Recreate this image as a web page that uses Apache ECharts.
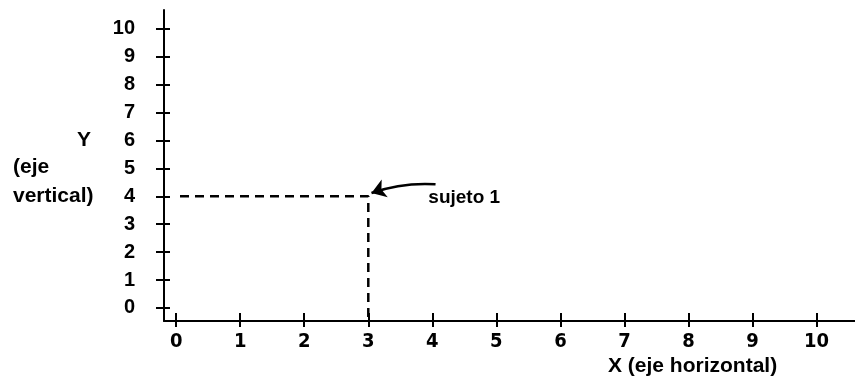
<!DOCTYPE html>
<html>
<head>
<meta charset="utf-8">
<script src="https://cdn.jsdelivr.net/npm/echarts@6/dist/echarts.min.js"></script>
<style>html,body{margin:0;padding:0;background:#fff}#c{width:855px;height:385px}</style>
</head>
<body>
<div id="c"></div>
<script>
// ---- data ----
var xTicks = [0,1,2,3,4,5,6,7,8,9,10];
var yTicks = [0,1,2,3,4,5,6,7,8,9,10];
var subjectPoint = [3, 4];
var subjectLabel = 'sujeto 1';
var arrowTail = [4.05, 4.43];
var arrowHead = [3.05, 4.12];
var labelAnchor = [3.93, 3.95];
var xName = 'X (eje horizontal)';
var yName = 'Y';
var yNameSub = ['(eje', 'vertical)'];

var X_MIN = -0.19, X_MAX = 10.6, Y_MIN = -0.47, Y_MAX = 10.68;
var chart = echarts.init(document.getElementById('c'), null, {renderer: 'canvas'});
var font = 'Liberation Sans, Arial, sans-serif';
var narrow = "'Liberation Sans Narrow', 'DejaVu Sans Condensed', 'Liberation Sans', sans-serif";

chart.setOption({
  animation: false,
  backgroundColor: '#fff',
  grid: {left: 164, right: 0, top: 10, bottom: 64, containLabel: false, outerBoundsMode: 'none'},
  xAxis: [{
    type: 'value', min: X_MIN, max: X_MAX, position: 'bottom',
    splitLine: {show: false},
    axisLine: {show: true, onZero: false, lineStyle: {color: '#000', width: 2}},
    axisTick: {show: true, inside: false, length: 6, customValues: xTicks, lineStyle: {color: '#000', width: 2}},
    axisLabel: {show: true, customValues: xTicks, margin: 11, color: '#000', fontSize: 20, fontWeight: 'bold', fontFamily: narrow}
  }, {
    type: 'value', min: X_MIN, max: X_MAX, position: 'bottom',
    splitLine: {show: false},
    axisLine: {show: false, onZero: false},
    axisTick: {show: true, inside: true, length: 8, customValues: xTicks, lineStyle: {color: '#000', width: 2}},
    axisLabel: {show: false}
  }],
  yAxis: [{
    type: 'value', min: Y_MIN, max: Y_MAX, position: 'left',
    splitLine: {show: false},
    axisLine: {show: true, onZero: false, lineStyle: {color: '#000', width: 2}},
    axisTick: {show: true, inside: false, length: 8, customValues: yTicks, lineStyle: {color: '#000', width: 2}},
    axisLabel: {show: true, customValues: yTicks, margin: 29, color: '#000', fontSize: 20, fontWeight: 'bold', fontFamily: font}
  }, {
    type: 'value', min: Y_MIN, max: Y_MAX, position: 'left',
    splitLine: {show: false},
    axisLine: {show: false, onZero: false},
    axisTick: {show: true, inside: true, length: 6, customValues: yTicks, lineStyle: {color: '#000', width: 2}},
    axisLabel: {show: false}
  }],
  series: [{
    type: 'line',
    xAxisIndex: 0, yAxisIndex: 0,
    data: [[0.06, subjectPoint[1]], subjectPoint, [subjectPoint[0], Y_MIN]],
    symbol: 'none',
    lineStyle: {color: '#000', width: 2.5, type: [9, 6]},
    silent: true
  }, {
    type: 'lines',
    coordinateSystem: 'cartesian2d',
    xAxisIndex: 0, yAxisIndex: 0,
    symbol: ['none', 'arrow'],
    symbolSize: [0, 14],
    lineStyle: {color: '#000', width: 2.5, curveness: -0.1, opacity: 1},
    data: [{coords: [arrowTail, arrowHead]}],
    silent: true
  }, {
    type: 'scatter',
    xAxisIndex: 0, yAxisIndex: 0,
    symbolSize: 1,
    itemStyle: {color: '#fff', opacity: 0},
    data: [labelAnchor],
    label: {show: true, position: 'right', distance: 0, formatter: subjectLabel, color: '#000', opacity: 1, fontSize: 19, fontWeight: 'bold', fontFamily: font},
    silent: true
  }],
  graphic: [
    {type: 'text', left: 77, top: 130, style: {text: yName, fill: '#000', fontSize: 21, fontWeight: 'bold', fontFamily: font}},
    {type: 'text', left: 13, top: 157, style: {text: yNameSub[0], fill: '#000', fontSize: 21, fontWeight: 'bold', fontFamily: font}},
    {type: 'text', left: 13, top: 186, style: {text: yNameSub[1], fill: '#000', fontSize: 21, fontWeight: 'bold', fontFamily: font}},
    {type: 'text', left: 608, top: 356, style: {text: xName, fill: '#000', fontSize: 21, fontWeight: 'bold', fontFamily: font}}
  ]
});
</script>
</body>
</html>
